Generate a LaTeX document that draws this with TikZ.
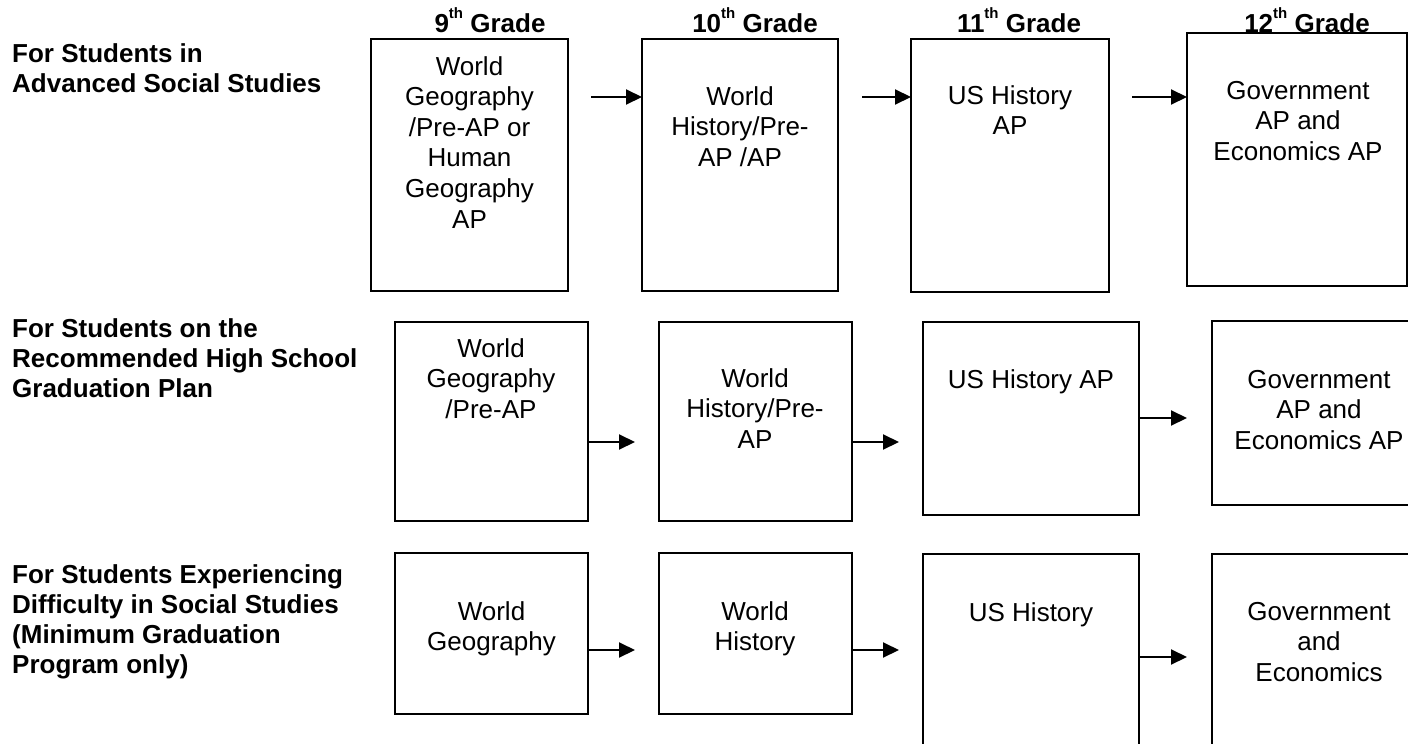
\documentclass[tikz,border=0pt]{standalone}
\usepackage{fontspec}
\setmainfont{Liberation Sans}
\usetikzlibrary{arrows.meta}
\newcommand{\boxtext}[1]{\begin{tabular}[t]{@{}c@{}}#1\end{tabular}}
\newcommand{\lefttext}[1]{\begin{tabular}[t]{@{}l@{}}#1\end{tabular}}
\newcommand{\supth}{\raisebox{14pt}{\fontsize{15}{15}\selectfont\bfseries th}}
\begin{document}
\begin{tikzpicture}[x=1pt,y=-1pt,
  bx/.style={draw, line width=1.6pt, anchor=north west, inner sep=0pt, outer sep=0pt},
  body/.style={font=\fontsize{26}{30.6}\selectfont, anchor=base, inner sep=0pt},
  lbl/.style={font=\fontsize{26}{30.3}\selectfont\bfseries, anchor=base west, inner sep=0pt},
  hdr/.style={font=\fontsize{26}{30}\selectfont\bfseries, anchor=base, inner sep=0pt},
  arr/.style={line width=2pt, -{Triangle[length=16pt,width=15pt]}}]
\useasboundingbox (0,0) rectangle (1408,744);
\clip (0,0) rectangle (1408,744);
\fill[white] (0,0) rectangle (1408,744);

% headers
\node[hdr] (h9)  at (490,32)  {9\supth\ Grade};
\node[hdr] (h10) at (755,32)  {10\supth\ Grade};
\node[hdr] (h11) at (1019,32) {11\supth\ Grade};
\node[hdr] (h12) at (1307,32) {12\supth\ Grade};

% left labels
\node[lbl] (l1) at (12,62)  {\lefttext{For Students in\\Advanced Social Studies}};
\node[lbl] (l2) at (12,337) {\lefttext{For Students on the\\Recommended High School\\Graduation Plan}};
\node[lbl] (l3) at (12,583) {\lefttext{For Students Experiencing\\Difficulty in Social Studies\\(Minimum Graduation\\Program only)}};

% row 1
\node[bx, minimum width=197pt, minimum height=252pt] (a1) at (371,39) {};
\node[bx, minimum width=196pt, minimum height=252pt] (a2) at (642,39) {};
\node[bx, minimum width=198pt, minimum height=253pt] (a3) at (911,39) {};
\node[bx, minimum width=220pt, minimum height=253pt] (a4) at (1187,33) {};
\node[body] (a1t) at (469.5,75) {\boxtext{World\\Geography\\/Pre-AP or\\Human\\Geography\\AP}};
\node[body] (a2t) at (740,105) {\boxtext{World\\History/Pre-\\AP /AP}};
\node[body] (a3t) at (1010,104) {\boxtext{US History\\AP}};
\node[body] (a4t) at (1298,99) {\boxtext{Government\\AP and\\Economics AP}};

% row 2
\node[bx, minimum width=193pt, minimum height=199pt] (b1) at (395,322) {};
\node[bx, minimum width=193pt, minimum height=199pt] (b2) at (659,322) {};
\node[bx, minimum width=216pt, minimum height=193pt] (b3) at (923,322) {};
\node[bx, minimum width=215pt, minimum height=184pt] (b4) at (1212,321) {};
\node[body] (b1t) at (491,357) {\boxtext{World\\Geography\\/Pre-AP}};
\node[body] (b2t) at (755,387) {\boxtext{World\\History/Pre-\\AP}};
\node[body] (b3t) at (1031,388) {\boxtext{US History AP}};
\node[body] (b4t) at (1319,388) {\boxtext{Government\\AP and\\Economics AP}};

% row 3
\node[bx, minimum width=193pt, minimum height=161pt] (c1) at (395,553) {};
\node[bx, minimum width=193pt, minimum height=161pt] (c2) at (659,553) {};
\node[bx, minimum width=216pt, minimum height=220pt] (c3) at (923,554) {};
\node[bx, minimum width=215pt, minimum height=220pt] (c4) at (1212,554) {};
\node[body] (c1t) at (491.5,620) {\boxtext{World\\Geography}};
\node[body] (c2t) at (755,620) {\boxtext{World\\History}};
\node[body] (c3t) at (1031,621) {\boxtext{US History}};
\node[body] (c4t) at (1319,620) {\boxtext{Government\\and\\Economics}};

% arrows row 1
\coordinate (p1) at (591,97);
\coordinate (p2) at (862,97);
\coordinate (p3) at (1132,97);
\draw[arr] (p1) -- (p1 -| a2.west);
\draw[arr] (p2) -- (p2 -| a3.west);
\draw[arr] (p3) -- (p3 -| a4.west);

% arrows row 2
\coordinate (q1) at (635,442);
\coordinate (q2) at (899,442);
\coordinate (q3) at (1187,418);
\draw[arr] (q1 -| b1.east) -- (q1);
\draw[arr] (q2 -| b2.east) -- (q2);
\draw[arr] (q3 -| b3.east) -- (q3);

% arrows row 3
\coordinate (r1) at (635,650);
\coordinate (r2) at (899,650);
\coordinate (r3) at (1187,657);
\draw[arr] (r1 -| c1.east) -- (r1);
\draw[arr] (r2 -| c2.east) -- (r2);
\draw[arr] (r3 -| c3.east) -- (r3);
\end{tikzpicture}
\end{document}
